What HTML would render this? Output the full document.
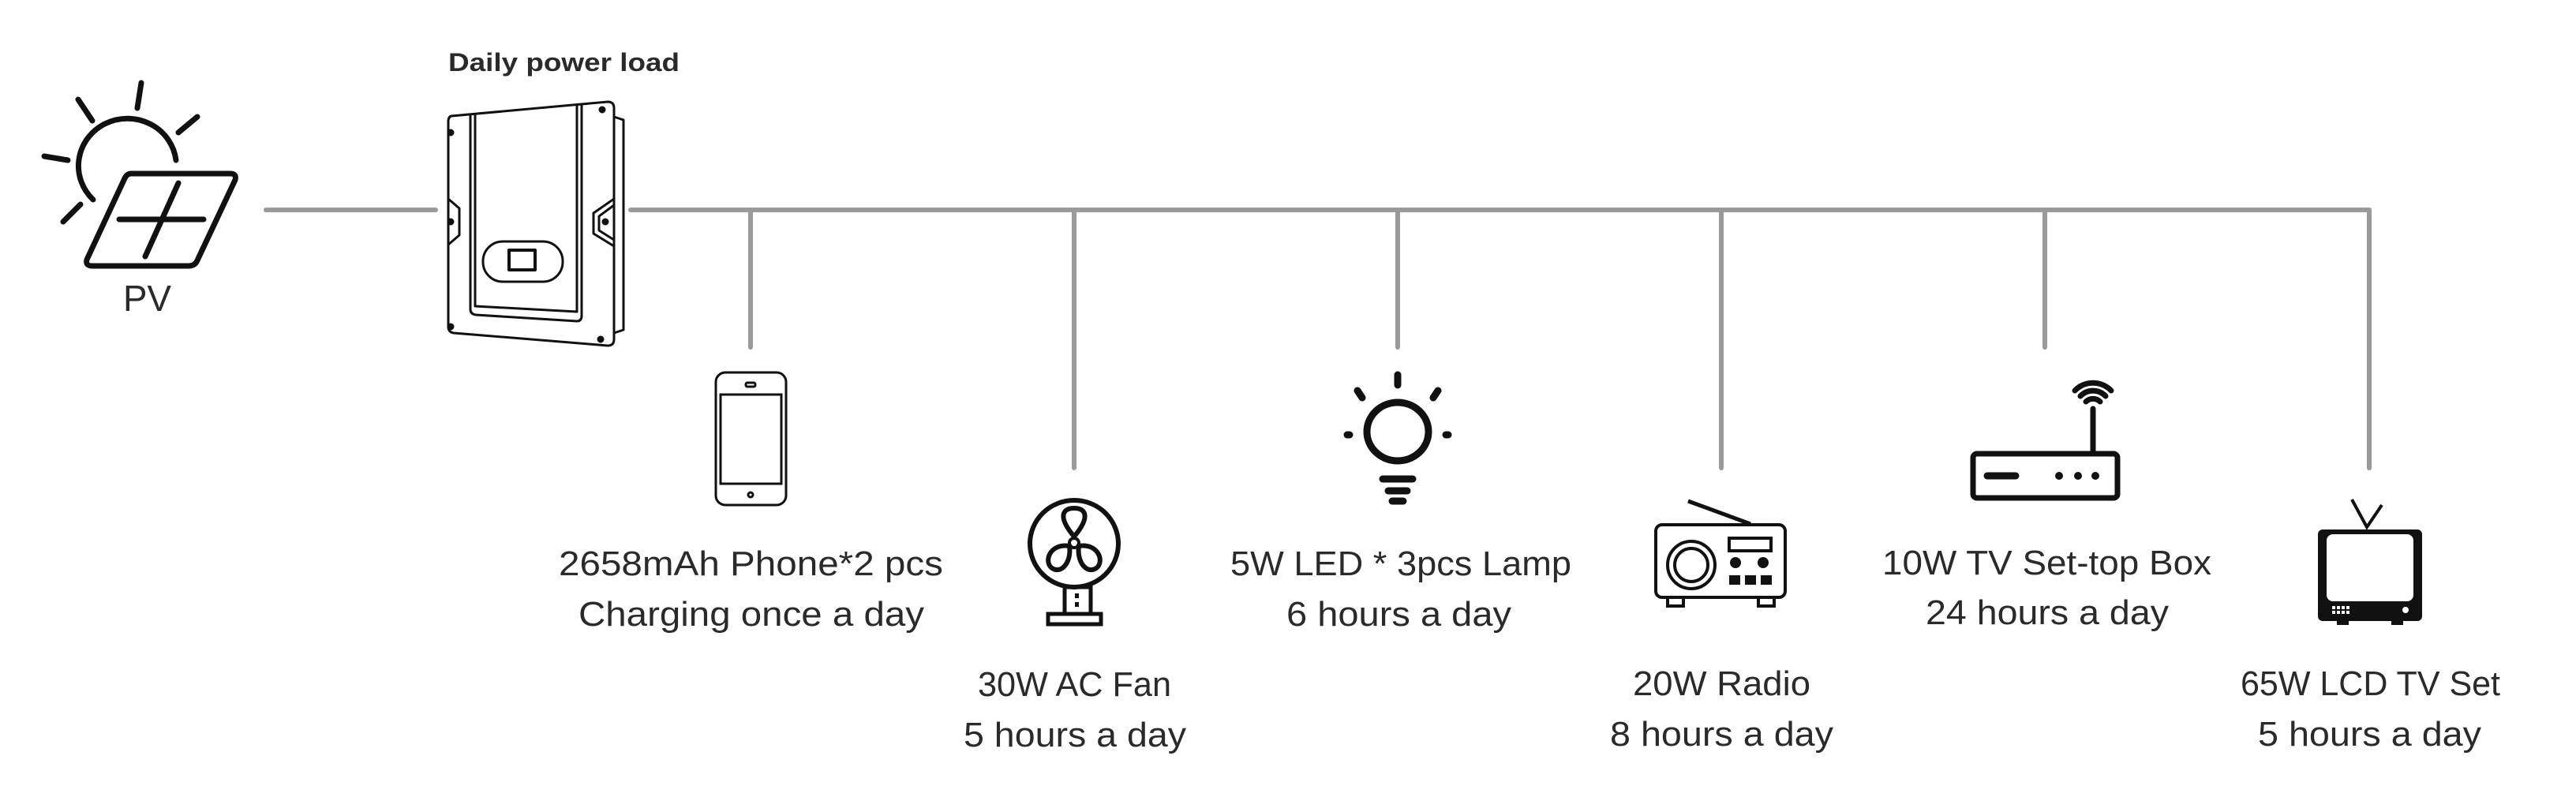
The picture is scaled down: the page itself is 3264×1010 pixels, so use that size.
<!DOCTYPE html>
<html><head><meta charset="utf-8"><style>
html,body{margin:0;padding:0;background:#fff;}
svg{display:block}
text{font-family:"Liberation Sans",sans-serif;fill:#2a2a2a;}
</style></head><body>
<svg width="3264" height="1010" viewBox="0 0 3264 1010" xmlns="http://www.w3.org/2000/svg">
<g stroke="#9a9a9a" stroke-width="6" stroke-linecap="round" fill="none">
<line x1="337" y1="266" x2="552" y2="266"/>
<line x1="799" y1="266" x2="3002" y2="266"/>
<line x1="951" y1="266" x2="951" y2="440"/>
<line x1="1361" y1="266" x2="1361" y2="593"/>
<line x1="1771" y1="266" x2="1771" y2="440"/>
<line x1="2181" y1="266" x2="2181" y2="593"/>
<line x1="2591" y1="266" x2="2591" y2="440"/>
<line x1="3002" y1="266" x2="3002" y2="593"/>
</g>
<!-- PV -->
<g stroke="#111" stroke-width="7" stroke-linecap="round" fill="none">
<path d="M118 253 A62 60 0 1 1 223 203"/>
<line x1="179" y1="105" x2="174" y2="137"/>
<line x1="99" y1="126" x2="117" y2="153"/>
<line x1="250" y1="148" x2="226" y2="168"/>
<line x1="56" y1="198" x2="86" y2="203"/>
<line x1="102" y1="259" x2="80" y2="281"/>
<path d="M166 220 L292 220 Q300 220 298 228 L250 330 Q247 337 239 337 L117 337 Q108 337 110 329 L158 226 Q161 220 166 220 Z"/>
<line x1="151" y1="278" x2="258" y2="278"/>
<line x1="226" y1="232" x2="184" y2="325"/>
</g>
<text x="156" y="394" font-size="46" textLength="61" lengthAdjust="spacingAndGlyphs">PV</text>
<text x="568" y="90" font-size="32" font-weight="bold" textLength="293" lengthAdjust="spacingAndGlyphs" fill="#222">Daily power load</text>
<!-- inverter -->
<g stroke="#111" stroke-width="3" fill="none" stroke-linejoin="round">
<path d="M572 147 L770 129 Q778 129 778 137 L778 430 Q778 438 770 438 L575 422 Q568 421 568 414 L568 154 Q568 148 572 147 Z"/>
<path d="M778 148 L790 152 L790 418 L778 422"/>
<path d="M596 144 L596 392 Q596 398 603 399 L731 407 Q737 407 737 400 L737 131"/>
<path d="M602 143 L602 388 L731 395 L731 132"/>
<rect x="612" y="306" width="101" height="51" rx="25"/>
<rect x="645" y="317" width="33" height="25" stroke-width="4"/>
<path d="M568 252 L582 264 L582 298 L568 310"/>
<path d="M778 252 L752 270 L752 296 L778 312"/>
<path d="M778 260 L759 274 L759 292 L778 304"/>
<circle cx="571" cy="168" r="3" fill="#111"/>
<circle cx="763" cy="139" r="3" fill="#111"/>
<circle cx="571" cy="281" r="3" fill="#111"/>
<circle cx="767" cy="281" r="3" fill="#111"/>
<circle cx="571" cy="414" r="3" fill="#111"/>
<circle cx="761" cy="430" r="3" fill="#111"/>
</g>
<!-- phone -->
<g stroke="#111" stroke-width="3" fill="none">
<rect x="907" y="472" width="89" height="168" rx="12"/>
<rect x="913" y="500" width="77" height="113"/>
<circle cx="951" cy="627" r="3"/>
<rect x="945" y="485" width="12" height="5" rx="2"/>
</g>
<text x="708" y="729" font-size="44" textLength="487" lengthAdjust="spacingAndGlyphs">2658mAh Phone*2 pcs</text>
<text x="733" y="793" font-size="44" textLength="438" lengthAdjust="spacingAndGlyphs">Charging once a day</text>
<!-- fan -->
<g stroke="#111" stroke-width="6" fill="none">
<ellipse cx="1361" cy="689" rx="56" ry="55"/>
<path d="M1361 680 C1340 655 1346 644 1361 644 C1376 644 1382 655 1361 680 Z" stroke-width="6"/>
<path d="M1355 692 C1330 688 1322 712 1333 720 C1345 728 1358 712 1355 692 Z" stroke-width="6"/>
<path d="M1367 692 C1392 688 1400 712 1389 720 C1377 728 1364 712 1367 692 Z" stroke-width="6"/>
<circle cx="1361" cy="688" r="6" stroke-width="4"/>
<rect x="1349" y="744" width="33" height="34" stroke-width="5"/>
<rect x="1328" y="778" width="67" height="13" stroke-width="5"/>
</g>
<rect x="1362" y="752" width="5" height="6" fill="#111"/><rect x="1362" y="763" width="5" height="6" fill="#111"/>
<text x="1239" y="882" font-size="44" textLength="245" lengthAdjust="spacingAndGlyphs">30W AC Fan</text>
<text x="1221" y="946" font-size="44" textLength="282" lengthAdjust="spacingAndGlyphs">5 hours a day</text>
<!-- lamp -->
<g stroke="#111" stroke-width="9" fill="none" stroke-linecap="round">
<ellipse cx="1771" cy="547" rx="39" ry="37"/>
<line x1="1771" y1="475" x2="1771" y2="488"/>
<line x1="1720" y1="495" x2="1726" y2="504"/>
<line x1="1822" y1="495" x2="1816" y2="504"/>
<line x1="1707" y1="551" x2="1710" y2="551"/>
<line x1="1832" y1="551" x2="1835" y2="551"/>
<line x1="1752" y1="607" x2="1790" y2="607"/>
<line x1="1759" y1="622" x2="1783" y2="622"/>
<line x1="1764" y1="635" x2="1778" y2="635"/>
</g>
<text x="1559" y="729" font-size="44" textLength="432" lengthAdjust="spacingAndGlyphs">5W LED * 3pcs Lamp</text>
<text x="1630" y="793" font-size="44" textLength="285" lengthAdjust="spacingAndGlyphs">6 hours a day</text>
<!-- radio -->
<g stroke="#111" stroke-width="4" fill="none">
<rect x="2098" y="665" width="164" height="92" rx="8"/>
<line x1="2139" y1="635" x2="2218" y2="664" stroke-width="5"/>
<circle cx="2143" cy="716" r="30"/>
<circle cx="2143" cy="716" r="21"/>
<rect x="2191" y="682" width="53" height="16"/>
<rect x="2113" y="757" width="20" height="11"/>
<rect x="2228" y="757" width="20" height="11"/>
</g>
<circle cx="2199" cy="713" r="7" fill="#111"/><circle cx="2234" cy="713" r="7" fill="#111"/>
<rect x="2191" y="729" width="14" height="12" fill="#111"/><rect x="2211" y="729" width="14" height="12" fill="#111"/><rect x="2231" y="729" width="14" height="12" fill="#111"/>
<text x="2069" y="881" font-size="44" textLength="225" lengthAdjust="spacingAndGlyphs">20W Radio</text>
<text x="2040" y="945" font-size="44" textLength="283" lengthAdjust="spacingAndGlyphs">8 hours a day</text>
<!-- set-top box -->
<g stroke="#111" stroke-width="7" fill="none" stroke-linecap="round">
<rect x="2500" y="575" width="183" height="56" rx="5"/>
<line x1="2652" y1="518" x2="2652" y2="573"/>
<path d="M2643 509 A13 13 0 0 1 2661 509"/>
<path d="M2636 502 A22 22 0 0 1 2668 502"/>
<path d="M2629 495 A32 32 0 0 1 2675 495"/>
<line x1="2518" y1="603" x2="2554" y2="603" stroke-width="9"/>
</g>
<circle cx="2609" cy="603" r="5" fill="#111"/><circle cx="2633" cy="603" r="5" fill="#111"/><circle cx="2655" cy="603" r="5" fill="#111"/>
<text x="2385" y="728" font-size="44" textLength="417" lengthAdjust="spacingAndGlyphs">10W TV Set-top Box</text>
<text x="2440" y="791" font-size="44" textLength="308" lengthAdjust="spacingAndGlyphs">24 hours a day</text>
<!-- TV -->
<rect x="2937" y="671" width="132" height="116" rx="6" fill="#111"/>
<rect x="2948" y="677" width="110" height="85" rx="8" fill="#fff"/>
<path d="M2980 633 L2999 668 L3018 640" stroke="#111" stroke-width="4" fill="none"/>
<rect x="2961" y="786" width="15" height="6" fill="#111"/><rect x="3030" y="786" width="15" height="6" fill="#111"/>
<g fill="#fff"><rect x="2955" y="768" width="4" height="4"/><rect x="2961" y="768" width="4" height="4"/><rect x="2967" y="768" width="4" height="4"/><rect x="2973" y="768" width="4" height="4"/>
<rect x="2955" y="774" width="4" height="4"/><rect x="2961" y="774" width="4" height="4"/><rect x="2967" y="774" width="4" height="4"/><rect x="2973" y="774" width="4" height="4"/>
<circle cx="3048" cy="773" r="4"/></g>
<text x="2839" y="881" font-size="44" textLength="329" lengthAdjust="spacingAndGlyphs">65W LCD TV Set</text>
<text x="2861" y="945" font-size="44" textLength="283" lengthAdjust="spacingAndGlyphs">5 hours a day</text>
</svg>
</body></html>
